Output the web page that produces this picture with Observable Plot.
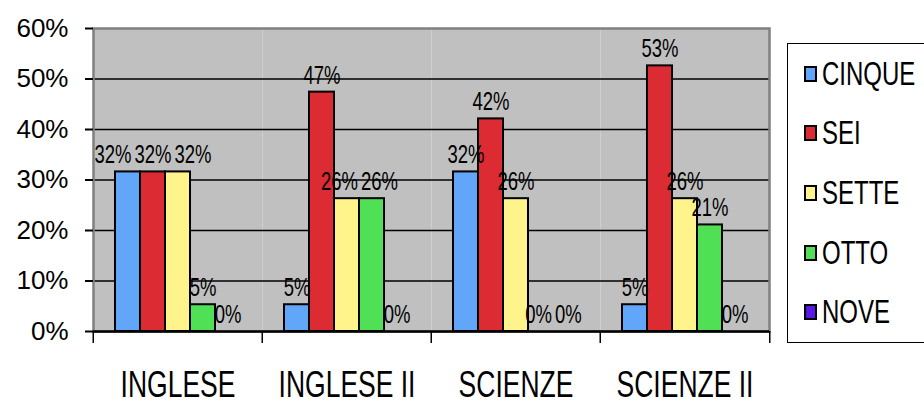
<!DOCTYPE html>
<html>
<head>
<meta charset="utf-8">
<script src="https://cdn.jsdelivr.net/npm/d3@7"></script>
<script src="https://cdn.jsdelivr.net/npm/@observablehq/plot@0.6"></script>
<style>
  body { margin: 0; background: #fff; }
  #wrap { position: relative; width: 924px; height: 404px; overflow: hidden; }
  #legend {
    position: absolute; left: 787px; top: 43px; width: 145px; height: 300px;
    border: 1px solid #000; background: #fff; box-sizing: border-box;
    display: flex; flex-direction: column; justify-content: space-around;
  }
  .item { display: flex; align-items: center; padding-left: 16px; }
  .sw { width: 13px; height: 16px; box-sizing: border-box; border: 2px solid #000; margin-right: 5px; }
  .lt { display: inline-block; font-family: "Liberation Sans", Arial, sans-serif; font-size: 24px; line-height: 1;
        color: #000; transform: scaleY(1.35); transform-origin: center; }
</style>
</head>
<body>
<div id="wrap"><div id="chart"></div><div id="legend"></div></div>
<script>
const categories = ["INGLESE", "INGLESE II", "SCIENZE", "SCIENZE II"];
const series = ["CINQUE", "SEI", "SETTE", "OTTO", "NOVE"];
const colors = ["#62a6fa", "#dd2b34", "#fff48b", "#4fe055", "#5a18e8"];
const cinque = [0.316, 0.053, 0.316, 0.053];
const sei    = [0.316, 0.474, 0.421, 0.526];
const sette  = [0.316, 0.263, 0.263, 0.263];
const otto   = [0.053, 0.263, 0.0,   0.211];
const nove   = [0.0,   0.0,   0.0,   0.0];
const yTicks = [0, 0.1, 0.2, 0.3, 0.4, 0.5, 0.6];

const seriesValues = [cinque, sei, sette, otto, nove];
const data = [];
categories.forEach((c, i) => series.forEach((s, j) => data.push({cat: c, series: s, value: seriesValues[j][i]})));

const W = 924, H = 404, mL = 92, mR = 154, mT = 28, mB = 73;
const facetW = (W - mL - mR) / categories.length;
const sans = "'Liberation Sans', Arial, sans-serif";

const chart = Plot.plot({
  width: W, height: H,
  marginLeft: mL, marginRight: mR, marginTop: mT, marginBottom: mB,
  style: {background: "transparent", overflow: "visible"},
  fx: {domain: categories, padding: 0, label: null, axis: null},
  x: {domain: series, paddingInner: 0, paddingOuter: 0.77, axis: null},
  y: {domain: [0, 0.6], label: null, axis: null},
  color: {domain: series, range: colors},
  marks: [
    Plot.frame({fill: "#c0c0c0"}),
    Plot.ruleY(yTicks.filter(d => d > 0 && d < 0.6), {stroke: "#000", strokeWidth: 1.5}),
    Plot.frame({stroke: "#808080", strokeWidth: 2.5, facet: "super"}),
    Plot.barY(data, {fx: "cat", x: "series", y: "value", fill: "series", stroke: "#000", strokeWidth: 2}),
    Plot.ruleY([0], {stroke: "#000", strokeWidth: 2.5}),
    Plot.text(data, {fx: "cat", x: "series", y: "value", text: d => Math.round(d.value * 100) + "%",
      lineAnchor: "bottom", dy: -7, fontSize: 18.5, fontFamily: sans, fill: "#000"}),
    Plot.axisY({ticks: yTicks, tickFormat: d3.format(".0%"), tickSize: 8, tickPadding: 17,
      fontSize: 26, fontFamily: sans, strokeWidth: 2, label: null}),
    Plot.axisFx({anchor: "bottom", tickSize: 0, tickPadding: 37, fontSize: 26.5, fontFamily: sans, label: null}),
    Plot.axisFx({anchor: "bottom", tickSize: 12, dx: -facetW / 2, tickFormat: () => "", strokeWidth: 1.5, label: null}),
    Plot.axisFx({anchor: "bottom", ticks: [categories[categories.length - 1]], tickSize: 12, dx: facetW / 2, tickFormat: () => "", strokeWidth: 1.5, label: null})
  ]
});
document.getElementById("chart").appendChild(chart);

// shift a text horizontally and stretch it vertically about a given edge (like the original's tall glyphs)
function adjust(el, dx, sy, edge) {
  const r = el.getBoundingClientRect();
  const p = el.parentNode.getScreenCTM();
  const ay = (edge === "top" ? r.top : r.bottom) - p.f;
  const t0 = el.getAttribute("transform") || "";
  el.setAttribute("transform", `translate(${dx},${ay}) scale(1,${sy}) translate(0,${-ay}) ${t0}`);
}

// spread overlapping value labels apart (as the original's label placement does)
const labels = Array.from(chart.querySelectorAll('g[aria-label="text"] text')).map(el => {
  const r = el.getBoundingClientRect();
  return {el, cx: (r.left + r.right) / 2, cy: (r.top + r.bottom) / 2, w: r.width, nx: (r.left + r.right) / 2};
}).sort((a, b) => a.cx - b.cx);
const clusters = [];
labels.forEach(it => {
  const c = clusters[clusters.length - 1];
  const prev = c && c[c.length - 1];
  if (prev && Math.abs(prev.cy - it.cy) < 8 && it.cx - prev.cx < (prev.w + it.w) / 2 + 2) c.push(it);
  else clusters.push([it]);
});
clusters.forEach(c => {
  if (c.length > 1) {
    const center = d3.mean(c, d => d.cx);
    const step = d3.max(c, d => d.w) + 3;
    c.forEach((d, i) => { d.nx = center + (i - (c.length - 1) / 2) * step; });
  }
});
labels.forEach(d => adjust(d.el, d.nx - d.cx, 1.4, "bottom"));
chart.querySelectorAll('g[aria-label="fx-axis tick label"] text').forEach(el => adjust(el, 0, 1.42, "top"));

const legend = document.getElementById("legend");
series.forEach((s, i) => {
  const it = document.createElement("div");
  it.className = "item";
  it.innerHTML = `<div class="sw" style="background:${colors[i]}"></div><span class="lt">${s}</span>`;
  legend.appendChild(it);
});
</script>
</body>
</html>
